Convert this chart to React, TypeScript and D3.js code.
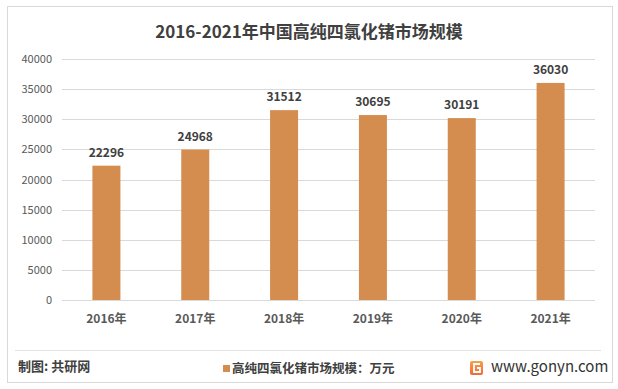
import React from "react";
import * as d3 from "d3";

const categories = ["2016年", "2017年", "2018年", "2019年", "2020年", "2021年"];
const values = [22296, 24968, 31512, 30695, 30191, 36030];
const yTicks = [0, 5000, 10000, 15000, 20000, 25000, 30000, 35000, 40000];
const title = "2016-2021年中国高纯四氯化锗市场规模";
const legendLabel = "高纯四氯化锗市场规模：万元";
const source = "制图: 共研网";
const site = "www.gonyn.com";

const W = 618;
const H = 389;
const FONT = "'Noto Sans CJK SC', 'Noto Sans', sans-serif";
const BAR = "#D48C4F";

export default function App() {
  const x = d3.scaleBand<string>().domain(categories).range([62, 595]).paddingInner(0).paddingOuter(0);
  const y = d3.scaleLinear().domain([0, 40000]).range([300, 59]);
  const barW = 28;

  return (
    <svg width={W} height={H} style={{ position: "absolute", left: 0, top: 0, background: "#fff" }} fontFamily={FONT}>
      <defs>
        <linearGradient id="logoG" x1="0" y1="0" x2="0" y2="1">
          <stop offset="0" stopColor="#F6A04A" />
          <stop offset="1" stopColor="#EE6A3A" />
        </linearGradient>
      </defs>
      <rect x={7.5} y={6.5} width={605} height={376} fill="#fff" stroke="#D9D9D9" strokeWidth={1} />
      <text x={309} y={38} textAnchor="middle" fontSize={17} fontWeight="bold" fill="#404040">{title}</text>

      {yTicks.map((t) => (
        <g key={t}>
          <line x1={62} x2={595} y1={Math.round(y(t)) + 0.5} y2={Math.round(y(t)) + 0.5} stroke="#D9D9D9" strokeWidth={1} />
          <text x={52} y={y(t) + 4} textAnchor="end" fontSize={11} fill="#595959">{t}</text>
        </g>
      ))}

      {categories.map((c, i) => {
        const cx = (x(c) as number) + x.bandwidth() / 2;
        return (
          <g key={c}>
            <rect x={cx - barW / 2} y={y(values[i])} width={barW} height={y(0) - y(values[i])} fill={BAR} />
            <text x={cx} y={y(values[i]) - 9} textAnchor="middle" fontSize={12} fontWeight="bold" fill="#404040">{values[i]}</text>
            <text x={cx} y={323} textAnchor="middle" fontSize={12} fontWeight="bold" fill="#595959">{c}</text>
          </g>
        );
      })}

      <line x1={15} x2={601} y1={350.5} y2={350.5} stroke="#E3E3E3" strokeWidth={1} />
      <text x={18} y={371} fontSize={13} fontWeight="bold" fill="#404040">{source}</text>
      <rect x={223} y={365} width={7} height={7} fill={BAR} />
      <text x={232} y={373} fontSize={12.5} fontWeight="bold" fill="#404040">{legendLabel}</text>
      <rect x={470} y={361} width={13} height={14} rx={2} fill="url(#logoG)" />
      <path d="M480 364 H474 V372 H480 V368 H477" fill="none" stroke="#fff" strokeWidth={1.8} />
      <text x={491} y={372} fontSize={15} fill="#333">{site}</text>
    </svg>
  );
}
